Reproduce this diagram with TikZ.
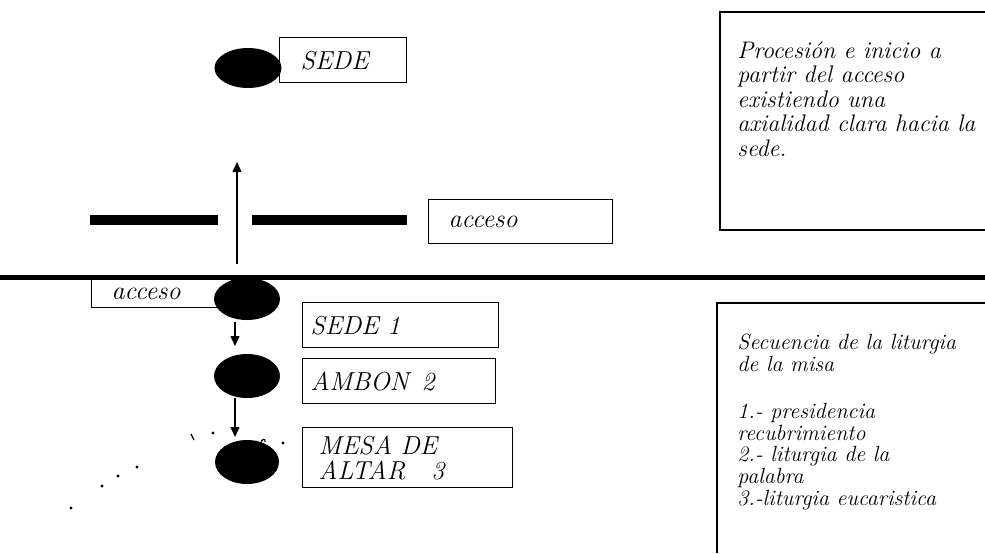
\documentclass[tikz,border=0pt]{standalone}
\usetikzlibrary{shapes.geometric,arrows.meta}
\begin{document}
\begin{tikzpicture}[x=0.5pt,y=-0.5pt,
  blob/.style={ellipse,fill=black,inner sep=0pt},
  lbl/.style={draw,line width=0.7pt,anchor=north west,inner ysep=0pt,align=left,font=\fontsize{13}{12.5}\selectfont\itshape},
  arr/.style={line width=0.7pt,-{Triangle[width=4.5pt,length=5pt]}},
  note/.style={anchor=north west,inner sep=0pt,align=left},
  speck/.style={fill=black}]
\useasboundingbox (0,0) rectangle (985,553);

% walls and bars
\fill (90,215) rectangle (218,225);
\fill (252,215) rectangle (407,225);
\draw[line width=2.5pt] (0,277.5) -- (985,277.5);

% lower acceso box (behind the ellipse)
\node[lbl,minimum width=70pt,minimum height=14pt,inner xsep=10pt,text width=50pt] (acc2) at (91,279) {acceso};

% ellipses
\node[blob,minimum width=33.5pt,minimum height=20pt] (e0) at (248,68) {};
\node[blob,minimum width=33pt,minimum height=21pt] (e1) at (247,299) {};
\node[blob,minimum width=33pt,minimum height=22pt] (e2) at (247,376) {};
\node[blob,minimum width=32pt,minimum height=22pt] (e3) at (247,462) {};

% label boxes
\node[lbl,minimum width=63.5pt,minimum height=22.5pt,inner xsep=10.5pt,text width=42.5pt] (sede) at (279,37) {SEDE};
\node[lbl,minimum width=92pt,minimum height=22pt,inner xsep=10pt,text width=72pt] (acc1) at (428,199) {acceso};
\node[lbl,minimum width=98pt,minimum height=22.5pt,inner xsep=4pt,text width=90pt] (s1) at (302,302) {SEDE 1};
\node[lbl,minimum width=96.5pt,minimum height=22.5pt,inner xsep=4pt,text width=88.5pt] (amb) at (302,358) {AMBON\enspace 2};
\node[lbl,minimum width=105pt,minimum height=30pt,inner xsep=8pt,text width=89pt] (mesa) at (302,427) {MESA DE\\ALTAR\quad 3};

% arrows
\coordinate (upbase) at (237,264);
\coordinate (uptip) at (237,162);
\draw[arr] (upbase) -- (uptip);
\coordinate (a1s) at (235,322);
\coordinate (a1e) at (235,346);
\draw[arr] (a1s) -- (a1e);
\coordinate (a2s) at (235,398);
\coordinate (a2e) at (235,437);
\draw[arr] (a2s) -- (a2e);

% right-hand boxes
\draw[line width=0.8pt] (985,12) -- (720,12) -- (720,230) -- (985,230);
\draw[line width=0.8pt] (985,303) -- (717,303) -- (717,553);

\node[note,font=\fontsize{12}{12.25}\selectfont\itshape] (t1) at (737,41)
  {Procesión e inicio a\\partir del acceso\\existiendo una\\axialidad clara hacia la\\sede.};
\node[note,font=\fontsize{11}{10.85}\selectfont\itshape] (t2) at (737,334)
  {Secuencia de la liturgia\\de la misa\\[12.6pt]1.- presidencia\\recubrimiento\\2.- liturgia de la\\palabra\\3.-liturgia eucaristica};

% specks
\draw[line width=0.6pt] (191,434) -- (194,440);
\fill[speck] (213,433) circle (0.8pt);
\draw[line width=0.6pt] (261,444) .. controls (261,438) and (266,438) .. (265,442);
\fill[speck] (283,443) circle (0.8pt);
\fill[speck] (137,467) circle (0.8pt);
\fill[speck] (118,476) circle (0.8pt);
\fill[speck] (102,486) circle (0.8pt);
\fill[speck] (71,508) circle (0.8pt);
\end{tikzpicture}
\end{document}
